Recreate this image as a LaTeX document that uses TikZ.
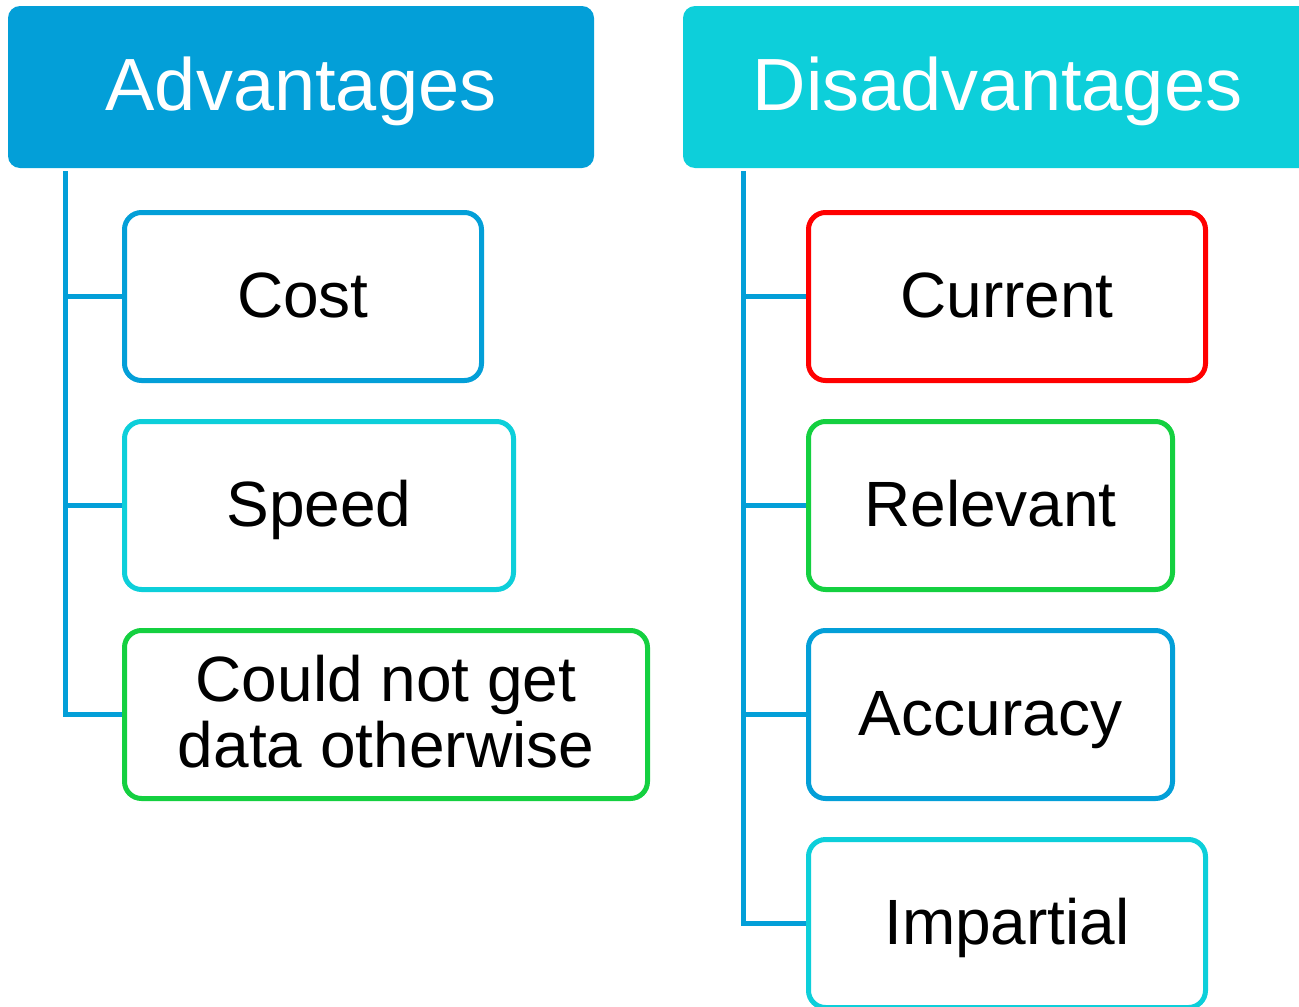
\documentclass[tikz,border=0pt]{standalone}
\usepackage{fontspec}
\setmainfont{Liberation Sans}
\usepackage{tikz}
\usetikzlibrary{positioning,backgrounds}
\definecolor{advblue}{RGB}{3,159,216}
\definecolor{advcyan}{RGB}{13,207,218}
\definecolor{advred}{RGB}{255,0,0}
\definecolor{advgreen}{RGB}{20,208,64}
\newcommand{\headfont}{\fontsize{74}{80}\selectfont}
\newcommand{\itemfont}{\fontsize{64}{66}\selectfont}
\tikzstyle{headbox} = [rounded corners=12pt, minimum height=162pt, inner sep=0pt, text=white, font=\headfont, text height=53pt, text depth=7pt]
\tikzstyle{itembox} = [draw, line width=5pt, rounded corners=17pt, fill=white, minimum height=168pt, inner sep=0pt, font=\itemfont, text height=46pt, text depth=5pt]
\tikzstyle{trunk} = [draw=advblue, line width=5pt]

\begin{document}
\begin{tikzpicture}[x=1pt,y=-1pt]
\useasboundingbox (0,0) rectangle (1299,1007);

%% Headers
\node [headbox,fill=advblue,minimum width=586pt] (adv) at (301,87) {Advantages};
\node [headbox,fill=advcyan,minimum width=629pt] (dis) at (997.5,87) {Disadvantages};

%% Advantages column
\node [itembox,draw=advblue,minimum width=357pt,anchor=west] (cost) at (122,296.5) {Cost};
\node [itembox,draw=advcyan,minimum width=389pt,below=36pt of cost.south west,anchor=north west] (speed) {Speed};
\node [itembox,draw=advgreen,minimum width=523pt,below=36pt of speed.south west,anchor=north west,
       align=center,text height=112pt,text depth=7pt] (otherwise)
      {Could not get\\data otherwise};

%% Disadvantages column
\node [itembox,draw=advred,minimum width=397pt,anchor=west] (current) at (806,296.5) {Current};
\node [itembox,draw=advgreen,minimum width=364pt,below=36pt of current.south west,anchor=north west] (relevant) {Relevant};
\node [itembox,draw=advblue,minimum width=364pt,below=36pt of relevant.south west,anchor=north west] (accuracy) {Accuracy};
\node [itembox,draw=advcyan,minimum width=397pt,below=36pt of accuracy.south west,anchor=north west] (impartial) {Impartial};

%% Link headers with items
\coordinate (advtop) at (65,171);
\coordinate (distop) at (743,171);
\begin{scope}[on background layer]
\path[trunk] (advtop) |- (otherwise.west);
\foreach \n in {cost,speed}
    \path[trunk] (advtop |- \n.west) -- (\n.west);
\path[trunk] (distop) |- (impartial.west);
\foreach \n in {current,relevant,accuracy}
    \path[trunk] (distop |- \n.west) -- (\n.west);
\end{scope}

\end{tikzpicture}
\end{document}
